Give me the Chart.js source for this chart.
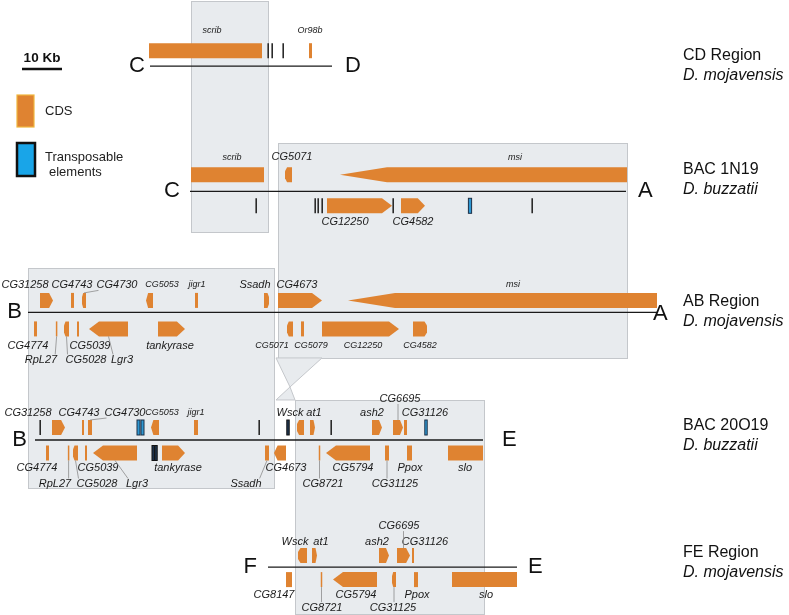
<!DOCTYPE html>
<html><head><meta charset="utf-8">
<script src="https://cdn.jsdelivr.net/npm/chart.js@4/dist/chart.umd.min.js"></script>
<style>html,body{margin:0;padding:0;background:#fff;}canvas{display:block;}</style>
</head><body>
<canvas id="c" width="789" height="615"></canvas>
<script>
// ---------------- DATA (map positions in kb on a shared axis) ----------------
const rowNames   = ['CD Region', 'BAC 1N19', 'AB Region', 'BAC 20O19', 'FE Region'];
const rowSpecies = ['D. mojavensis', 'D. buzzatii', 'D. mojavensis', 'D. buzzatii', 'D. mojavensis'];
const rowEnds    = [['C','D'], ['C','A'], ['B','A'], ['B','E'], ['F','E']];
const rowSpan    = [[37.5,83], [47.5,156.5], [7,164.25], [8.75,120.75], [67,129.25]];

// genes: [name, startKb, endKb, strand (+1 above line, -1 below), shape]
const genesCD = [['scrib',37.25,65.5,1,'B'], ['Or98b',77.25,78,1,'B']];
const genes1N19 = [['scrib',47.75,66,1,'B'], ['CG5071',71.25,73,1,'('], ['msi',85,156.75,1,'<<'],
  ['CG12250',81.75,98,-1,'>'], ['CG4582',100.25,106.25,-1,'>']];
const genesAB = [['CG31258',10,13.25,1,'>'], ['CG4743',17.75,18.5,1,'B'], ['CG4730',20.5,21.5,1,'('],
  ['CG5053',36.5,38.25,1,'<'], ['jigr1',48.75,49.5,1,'B'], ['Ssadh',66,67.25,1,')'],
  ['CG4673',69.5,80.5,1,'>'], ['msi',87,164.25,1,'<<'],
  ['CG4774',8.5,9.25,-1,'B'], ['RpL27',14,14.3,-1,'B'], ['CG5028',16,17.25,-1,'('],
  ['CG5039',19.25,19.75,-1,'B'], ['Lgr3',22.25,32,-1,'<'], ['tankyrase',39.5,46.25,-1,'>'],
  ['CG5071',71.75,73.25,-1,'('], ['CG5079',75.25,76,-1,'B'], ['CG12250',80.5,99.75,-1,'>'],
  ['CG4582',103.25,106.75,-1,')']];
const genes20O19 = [['CG31258',13,16.25,1,'>'], ['CG4743',20.5,21,1,'B'], ['CG4730',22,23,1,'B'],
  ['CG5053',37.75,39.75,1,'<'], ['jigr1',48.5,49.5,1,'B'], ['Wsck',74.25,76,1,'('],
  ['at1',77.5,78.75,1,'>'], ['ash2',93,95.5,1,'>'], ['CG6695',98.25,100.75,1,'>'], ['CG31126',101,101.75,1,'B'],
  ['CG4774',11.5,12.25,-1,'B'], ['RpL27',17,17.3,-1,'B'], ['CG5028',18.25,19.5,-1,'('],
  ['CG5039',21.25,21.75,-1,'B'], ['Lgr3',23.25,34.25,-1,'<'], ['tankyrase',40.5,46.25,-1,'>'],
  ['Ssadh',66.25,67.25,-1,'B'], ['CG4673',68.5,71.5,-1,'<'], ['CG8721',79.75,80,-1,'B'],
  ['CG5794',81.5,92.5,-1,'<'], ['CG31125',96.25,97.25,-1,'B'], ['Ppox',101.75,103,-1,'B'],
  ['slo',112,120.75,-1,'B']];
const genesFE = [['Wsck',74.5,76.75,1,'('], ['at1',78,79.25,1,'>'], ['ash2',94.75,97.25,1,'>'],
  ['CG6695',99.25,102.5,1,'>'], ['CG31126',103,103.5,1,'B'],
  ['CG8147',71.5,73,-1,'B'], ['CG8721',80.25,80.5,-1,'B'], ['CG5794',83.25,94.25,-1,'<'],
  ['CG31125',98,99,-1,'('], ['Ppox',103.5,104.5,-1,'B'], ['slo',113,129.25,-1,'B']];
const genesByRow = [genesCD, genes1N19, genesAB, genes20O19, genesFE];

// gene labels: [gene, labelCentreKb, tier, small font, leader line]
const labelsCD = [['scrib',53,1,1,0], ['Or98b',77.5,1,1,0]];
const labels1N19 = [['scrib',58,1,1,0], ['CG5071',73,1,0,0], ['msi',128.75,1,1,0],
  ['CG12250',86.25,1,0,0], ['CG4582',103.25,1,0,0]];
const labelsAB = [['CG31258',6.25,1,0,0], ['CG4743',18,1,0,0], ['CG4730',29.25,1,0,1],
  ['CG5053',40.5,1,1,0], ['jigr1',49.25,1,1,0], ['Ssadh',63.75,1,0,0], ['CG4673',74.25,1,0,0],
  ['msi',128.25,1,1,0], ['CG4774',7,1,0,0], ['CG5039',22.5,1,0,0], ['tankyrase',42.5,1,0,0],
  ['CG5071',68,1,1,0], ['CG5079',77.75,1,1,0], ['CG12250',90.75,1,1,0], ['CG4582',105,1,1,0],
  ['RpL27',10.25,2,0,1], ['CG5028',21.5,2,0,1], ['Lgr3',30.5,2,0,1]];
const labels20O19 = [['CG31258',7,1,0,0], ['CG4743',19.75,1,0,0], ['CG4730',31.25,1,0,1],
  ['CG5053',40.5,1,1,0], ['jigr1',49,1,1,0], ['Wsck',72.5,1,0,0], ['at1',78.5,1,0,0],
  ['ash2',93,1,0,0], ['CG31126',106.25,1,0,0], ['CG6695',100,2,0,1],
  ['CG4774',9.25,1,0,0], ['CG5039',24.5,1,0,0], ['tankyrase',44.5,1,0,0], ['CG4673',71.5,1,0,0],
  ['CG5794',88.25,1,0,0], ['Ppox',102.5,1,0,0], ['slo',116.25,1,0,0],
  ['RpL27',13.75,2,0,1], ['CG5028',24.25,2,0,1], ['Lgr3',34.25,2,0,1], ['Ssadh',61.5,2,0,1],
  ['CG8721',80.75,2,0,1], ['CG31125',98.75,2,0,1]];
const labelsFE = [['Wsck',73.75,1,0,0], ['at1',80.25,1,0,0], ['ash2',94.25,1,0,0],
  ['CG31126',106.25,1,0,0], ['CG6695',99.75,2,0,1], ['CG8147',68.5,1,0,0], ['CG5794',89,1,0,0],
  ['Ppox',104.25,1,0,0], ['slo',121.5,1,0,0], ['CG8721',80.5,2,0,1], ['CG31125',98.25,2,0,1]];
const labelsByRow = [labelsCD, labels1N19, labelsAB, labels20O19, labelsFE];

// other sequence marks: [kb, strand]
const marksCD = [[67,1], [68,1], [70.75,1]];
const marks1N19 = [[64,-1], [78.75,-1], [79.5,-1], [80.5,-1], [98.25,-1], [133,-1]];
const marksAB = [];
const marks20O19 = [[10,1], [64.75,1], [82.75,1]];
const marksFE = [];
const marksByRow = [marksCD, marks1N19, marksAB, marks20O19, marksFE];

// transposable elements: [startKb, endKb, strand, dark]
const tesCD = [];
const tes1N19 = [[117.1,117.9,-1,0]];
const tesAB = [];
const tes20O19 = [[34.25,35,1,0], [35.25,36,1,0], [71.7,72.3,1,1], [106.2,106.8,1,0], [38,38.6,-1,1], [38.7,39.3,-1,1]];
const tesFE = [];
const tesByRow = [tesCD, tes1N19, tesAB, tes20O19, tesFE];

// shaded homology boxes: [startKb, endKb, rowTop, rowBottom]
const boxes = [[47.75,67,-0.51,1.333], [69.5,156.75,0.622,2.34], [7,68.5,1.621,3.38], [73.75,121,2.676,4.385]];
// connector (hourglass) between boxes: [kb, row] vertices
const funnelTop = [[69,2.34], [80.5,2.34], [72.5,2.572]];
const funnelBottom = [[72.5,2.572], [69,2.676], [73.75,2.676]];
const scaleBarKb = [5.5, 15.5];

// ---------------- STYLE / LAYOUT (pixels) ----------------
const ORANGE = '#DF8331';
const FONT = "'Liberation Sans', Arial, Helvetica, sans-serif";
const endGap     = [[5,13],[10,12],[6,-4],[8,19],[11,11]];
const lineDy     = [1, 1, -3, -0.5, 1.5];
const aboveOff   = [15.5, 16.5, 12, 12.5, 11.5];
const belowOff   = [15, 14.5, 16.5, 13, 12.5];
const labAbove   = [[20.5, 34], [17.5, 31], [15.5, 29.5], [15, 29], [13.5, 30]];
const labBelow   = [[16, 30], [16.5, 30], [17, 31], [15, 31], [15.5, 28]];
const nameDy     = [-10, -21, -14, -15, -13];
const GENE_H = 15;

function geneShape(ctx, x0, x1, yc, h, type) {
  if (x1 - x0 < 1.5) { const m = (x0 + x1) / 2; x0 = m - 0.75; x1 = m + 0.75; }
  const w = x1 - x0, t = yc - h / 2, b = yc + h / 2;
  ctx.beginPath();
  if (type === '>') {
    const hd = Math.min(w * 0.3, 10);
    ctx.moveTo(x0, t); ctx.lineTo(x1 - hd, t); ctx.lineTo(x1, yc); ctx.lineTo(x1 - hd, b); ctx.lineTo(x0, b);
  } else if (type === '<') {
    const hd = Math.min(w * 0.3, 10);
    ctx.moveTo(x1, t); ctx.lineTo(x0 + hd, t); ctx.lineTo(x0, yc); ctx.lineTo(x0 + hd, b); ctx.lineTo(x1, b);
  } else if (type === '<<') {
    const hd = 47;
    ctx.moveTo(x0, yc); ctx.lineTo(x0 + hd, t); ctx.lineTo(x1, t); ctx.lineTo(x1, b); ctx.lineTo(x0 + hd, b);
  } else if (type === ')') {
    const r = Math.min(w * 0.3, 2.5);
    ctx.moveTo(x0, t); ctx.lineTo(x1 - r, t); ctx.lineTo(x1, t + 4); ctx.lineTo(x1, b - 4); ctx.lineTo(x1 - r, b); ctx.lineTo(x0, b);
  } else if (type === '(') {
    const r = Math.min(w * 0.3, 2.5);
    ctx.moveTo(x1, t); ctx.lineTo(x0 + r, t); ctx.lineTo(x0, t + 4); ctx.lineTo(x0, b - 4); ctx.lineTo(x0 + r, b); ctx.lineTo(x1, b);
  } else {
    ctx.rect(x0, t, w, h);
  }
  ctx.closePath();
  ctx.fill();
}

const mapPlugin = {
  id: 'genomeMap',
  beforeDatasetsDraw(chart) {
    const ctx = chart.ctx, X = v => chart.scales.x.getPixelForValue(v), Y = v => chart.scales.y.getPixelForValue(v);
    ctx.save();
    ctx.fillStyle = '#E8EBEE'; ctx.strokeStyle = '#C4C7CB'; ctx.lineWidth = 1;
    boxes.forEach(([a, b, r0, r1]) => {
      const x0 = Math.round(X(a)) + 0.5, x1 = Math.round(X(b)) + 0.5, y0 = Math.round(Y(r0)) + 0.5, y1 = Math.round(Y(r1)) + 0.5;
      ctx.fillRect(x0, y0, x1 - x0, y1 - y0); ctx.strokeRect(x0, y0, x1 - x0, y1 - y0);
    });
    [funnelTop, funnelBottom].forEach(poly => {
      ctx.beginPath();
      poly.forEach(([k, r], i) => i ? ctx.lineTo(X(k), Y(r)) : ctx.moveTo(X(k), Y(r)));
      ctx.closePath(); ctx.fill(); ctx.stroke();
    });
    ctx.restore();
  },
  afterDatasetsDraw(chart) {
    const ctx = chart.ctx, X = v => chart.scales.x.getPixelForValue(v), Y = v => chart.scales.y.getPixelForValue(v);
    ctx.save();
    rowNames.forEach((name, r) => {
      const yl = Y(r) + lineDy[r];
      const yc = st => st > 0 ? yl - aboveOff[r] : yl + belowOff[r];
      // chromosome line
      ctx.strokeStyle = '#1a1a1a'; ctx.lineWidth = 1.3;
      ctx.beginPath(); ctx.moveTo(X(rowSpan[r][0]), yl); ctx.lineTo(X(rowSpan[r][1]), yl); ctx.stroke();
      // genes
      ctx.fillStyle = ORANGE;
      genesByRow[r].forEach(([g, s, e, st, shp]) => geneShape(ctx, X(s), X(e), yc(st), GENE_H, shp));
      // black marks
      ctx.strokeStyle = '#2a2a2a'; ctx.lineWidth = 1.6;
      marksByRow[r].forEach(([k, st]) => {
        const x = Math.round(X(k)) + 0.2, c = yc(st);
        ctx.beginPath(); ctx.moveTo(x, c - GENE_H / 2); ctx.lineTo(x, c + GENE_H / 2); ctx.stroke();
      });
      // transposable elements
      tesByRow[r].forEach(([s, e, st, dark]) => {
        const c = yc(st), x0 = X(s), w = Math.max(X(e) - x0, 2);
        ctx.fillStyle = dark ? '#1E3550' : '#2E97D2';
        ctx.strokeStyle = dark ? '#111' : '#1C3047'; ctx.lineWidth = 1;
        ctx.fillRect(x0, c - GENE_H / 2, w, GENE_H); ctx.strokeRect(x0, c - GENE_H / 2, w, GENE_H);
      });
      // labels
      ctx.textAlign = 'center'; ctx.textBaseline = 'middle';
      labelsByRow[r].forEach(([g, k, tier, small, leader]) => {
        const gene = genesByRow[r].find(q => q[0] === g);
        const st = gene[3];
        const size = small ? 9 : 11;
        ctx.font = `italic ${size}px ${FONT}`;
        const off = (st > 0 ? labAbove[r] : labBelow[r])[tier - 1];
        const lx = X(k), ly = yc(st) - st * off;
        ctx.fillStyle = '#1a1a1a';
        ctx.fillText(g, lx, ly);
        if (leader) {
          const half = ctx.measureText(g).width / 2;
          const gx = (X(gene[1]) + X(gene[2])) / 2;
          const gy = yc(st) - st * GENE_H / 2;
          const ax = Math.min(Math.max(gx, lx - half + 2), lx + half - 2);
          const ay = ly + st * (size / 2);
          ctx.strokeStyle = '#8c8c8c'; ctx.lineWidth = 0.8;
          ctx.beginPath(); ctx.moveTo(gx, gy); ctx.lineTo(ax, ay); ctx.stroke();
        }
      });
      // end letters
      ctx.fillStyle = '#111'; ctx.font = `22px ${FONT}`; ctx.textBaseline = 'middle';
      ctx.textAlign = 'right'; ctx.fillText(rowEnds[r][0], X(rowSpan[r][0]) - endGap[r][0], yl);
      ctx.textAlign = 'left'; ctx.fillText(rowEnds[r][1], X(rowSpan[r][1]) + endGap[r][1], yl + (r === 2 ? 2 : 0));
      // row labels on the right
      const yr = Y(r);
      ctx.font = `16px ${FONT}`; ctx.fillText(name, 683, yr + nameDy[r]);
      ctx.font = `italic 16px ${FONT}`; ctx.fillText(rowSpecies[r], 683, yr + nameDy[r] + 20);
    });
    // scale bar
    ctx.strokeStyle = '#111'; ctx.lineWidth = 2.5;
    ctx.beginPath(); ctx.moveTo(X(scaleBarKb[0]), 69); ctx.lineTo(X(scaleBarKb[1]), 69); ctx.stroke();
    ctx.fillStyle = '#111'; ctx.font = `bold 13.5px ${FONT}`; ctx.textAlign = 'center'; ctx.textBaseline = 'middle';
    ctx.fillText('10 Kb', (X(scaleBarKb[0]) + X(scaleBarKb[1])) / 2, 58);
    // legend
    ctx.fillStyle = ORANGE; ctx.fillRect(17, 95, 17, 32);
    ctx.strokeStyle = '#F0B63E'; ctx.lineWidth = 1.2; ctx.strokeRect(17, 95, 17, 32);
    ctx.fillStyle = '#19A5E8'; ctx.fillRect(17, 143, 18, 33);
    ctx.strokeStyle = '#111'; ctx.lineWidth = 2.5; ctx.strokeRect(17, 143, 18, 33);
    ctx.fillStyle = '#222'; ctx.font = `13px ${FONT}`; ctx.textAlign = 'left';
    ctx.fillText('CDS', 45, 111);
    ctx.fillText('Transposable', 45, 157);
    ctx.fillText('elements', 49, 172);
    ctx.restore();
  }
};

new Chart(document.getElementById('c'), {
  type: 'scatter',
  data: { datasets: [{ label: 'map', data: [], pointRadius: 0 }] },
  options: {
    responsive: false, animation: false, devicePixelRatio: 1,
    layout: { padding: 0 },
    plugins: { legend: { display: false }, tooltip: { enabled: false }, title: { display: false } },
    scales: {
      x: { type: 'linear', min: 0, max: 197.25, display: false },
      y: { type: 'linear', min: -0.5212, max: 4.3949, reverse: true, display: false }
    }
  },
  plugins: [mapPlugin]
});
</script>
</body></html>
